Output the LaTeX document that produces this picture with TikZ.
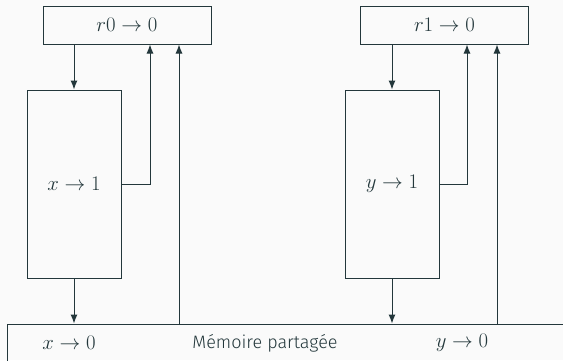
\documentclass[tikz,border=0pt]{standalone}
\usepackage{fontspec}
\setmainfont{Fira Sans Light}
\usetikzlibrary{arrows.meta}
\definecolor{mDarkTeal}{HTML}{23373B}
\definecolor{mBack}{HTML}{FAFAFA}

\begin{document}
\begin{tikzpicture}[x=1pt,y=-1pt,
    every node/.style={text=mDarkTeal,font=\fontsize{18}{21}\selectfont},
    mathlabel/.style={font=\fontsize{20}{24}\selectfont},
    box/.style={draw=mDarkTeal,line width=1pt,inner sep=0pt},
    regbox/.style={box,mathlabel,minimum width=168pt,minimum height=38pt},
    procbox/.style={box,mathlabel,minimum width=94pt,minimum height=188pt},
    link/.style={draw=mDarkTeal,line width=1pt,-{Latex[length=9pt,width=7pt]}}]
  \fill[mBack] (0,0) rectangle (563,360);
  \useasboundingbox (0,0) rectangle (563,360);
  % registres
  \node[regbox] (r0) at (127,25) {$r0 \to 0$};
  \node[regbox] (r1) at (444.5,25) {$r1 \to 0$};
  % processeurs
  \node[procbox] (t0) at (74,184) {$x \to 1$};
  \node[procbox] (t1) at (392,184) {$y \to 1$};
  % memoire
  \node[box,minimum width=600pt,minimum height=60pt] (mem) at (307,354) {};
  \node[mathlabel] (mx) at (69,343) {$x \to 0$};
  \node[mathlabel] (my) at (462,343) {$y \to 0$};
  \node (mt) at (265,343) {Mémoire partagée};
  \coordinate (m0) at (179,0);
  \coordinate (m1) at (497,0);
  % fleches
  \draw[link] (r0.south -| t0.north) -- (t0.north);
  \draw[link] (r1.south -| t1.north) -- (t1.north);
  \draw[link] (t0.east) -| ([xshift=23]r0.south);
  \draw[link] (t1.east) -| ([xshift=22.5]r1.south);
  \draw[link] (t0.south) -- (mem.north -| t0.south);
  \draw[link] (t1.south) -- (mem.north -| t1.south);
  \draw[link] (mem.north -| m0) -- (r0.south -| m0);
  \draw[link] (mem.north -| m1) -- (r1.south -| m1);
\end{tikzpicture}
\end{document}
